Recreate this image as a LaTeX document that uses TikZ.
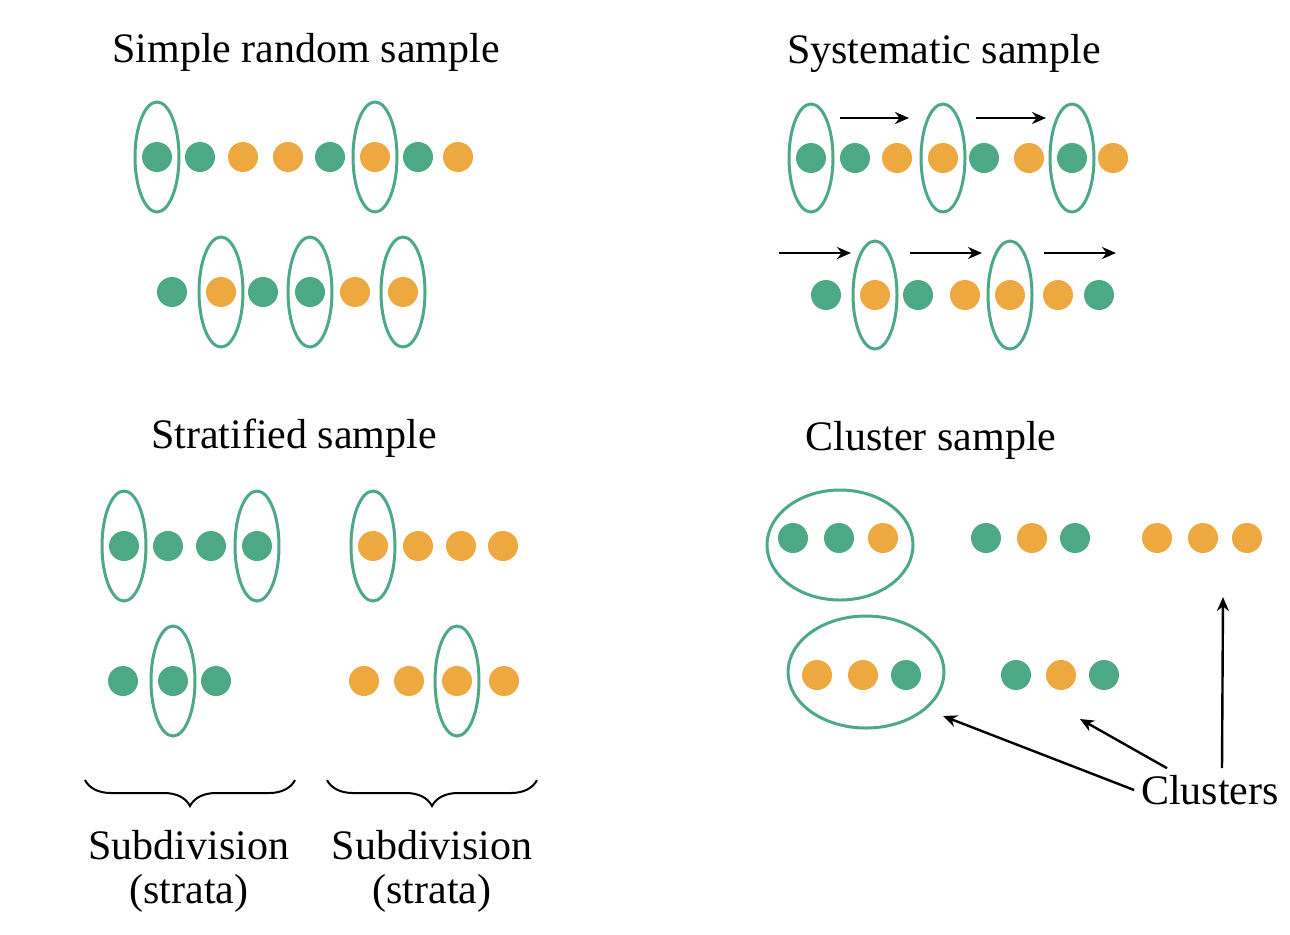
\documentclass[tikz,border=0pt]{standalone}
\usepackage{fontspec}
\setmainfont{Liberation Serif}
\usetikzlibrary{arrows.meta, decorations.pathreplacing, positioning}
\definecolor{sampGreen}{HTML}{4DA886}
\definecolor{sampOrange}{HTML}{EDA83F}
\tikzset{
  dotg/.style  = {circle, fill=sampGreen,  inner sep=0pt, minimum size=15pt},
  doto/.style  = {circle, fill=sampOrange, inner sep=0pt, minimum size=15pt},
  pick/.style  = {sampGreen, line width=1.5pt},
  ttl/.style   = {font=\fontsize{21}{22}\selectfont, anchor=base},
  lbl/.style   = {font=\fontsize{21}{22}\selectfont},
  arr/.style   = {-{Stealth[length=7pt, width=6pt]}, line width=1.2pt, black},
  brc/.style   = {decorate, decoration={brace, mirror, amplitude=13pt}, line width=1pt},
}

\begin{document}
\begin{tikzpicture}[x=0.5pt, y=-0.5pt]
  \useasboundingbox (0,0) rectangle (1290,934);
  % simple random sample
  \node[ttl] (srsT) at (306,62) {Simple random sample};
  \foreach \x/\c [count=\i] in {157/g,200/g,243/o,288/o,330/g,375/o,418/g,458/o}
    \node[dot\c] (sa\i) at (\x,157) {};
  \foreach \x/\c [count=\i] in {172/g,221/o,263/g,310/g,355/o,403/o}
    \node[dot\c] (sb\i) at (\x,292) {};
  \foreach \n in {sa1,sa6,sb2,sb4,sb6}
    \draw[pick] (\n.center) ellipse [x radius=22, y radius=55];
  % systematic sample, every third one
  \node[ttl] (sysT) at (944,63) {Systematic sample};
  \foreach \x/\c [count=\i] in {811/g,855/g,897/o,943/o,984/g,1029/o,1072/g,1113/o}
    \node[dot\c] (ya\i) at (\x,158) {};
  \foreach \x/\c [count=\i] in {826/g,875/o,918/g,965/o,1010/o,1058/o,1099/g}
    \node[dot\c] (yb\i) at (\x,295) {};
  \foreach \n in {ya1,ya4,ya7,yb2,yb5}
    \draw[pick] (\n.center) ellipse [x radius=22, y radius=54];
  \foreach \a/\b/\y [count=\i] in {840/909/118,976/1046/118,779/851/253,910/982/253,1044/1116/253} {
    \coordinate (st\i) at (\a,\y);
    \coordinate (sh\i) at (\b,\y);
    \draw[arr] (st\i) -- (sh\i);
  }
  % stratified sample
  \node[ttl] (strT) at (294,448) {Stratified sample};
  \foreach \x/\c [count=\i] in {124/g,168/g,211/g,257/g,373/o,418/o,461/o,503/o}
    \node[dot\c] (ta\i) at (\x,546) {};
  \foreach \x/\c [count=\i] in {123/g,173/g,216/g,364/o,409/o,457/o,504/o}
    \node[dot\c] (tb\i) at (\x,681) {};
  \foreach \n in {ta1,ta4,ta5,tb2,tb6}
    \draw[pick] (\n.center) ellipse [x radius=22, y radius=55];
  \draw[brc] (85,780) -- (295,780);
  \draw[brc] (327,780) -- (537,780);
  \node[lbl, align=center, anchor=north, inner sep=0pt] (subA) at (189,830) {Subdivision\\(strata)};
  \node[lbl, align=center, anchor=north, inner sep=0pt] (subB) at (432,830) {Subdivision\\(strata)};
  % cluster sample
  \node[ttl] (cluT) at (931,450) {Cluster sample};
  \foreach \x/\c [count=\i] in {793/g,839/g,883/o,986/g,1032/o,1075/g,1157/o,1203/o,1247/o}
    \node[dot\c] (ca\i) at (\x,538) {};
  \foreach \x/\c [count=\i] in {817/o,863/o,906/g,1016/g,1061/o,1104/g}
    \node[dot\c] (cb\i) at (\x,675) {};
  \draw[pick] (840,545) ellipse [x radius=73, y radius=55];
  \draw[pick] (866,672) ellipse [x radius=78, y radius=56];
  \node[lbl] (cluL) at (1210,790) {Clusters};
  \coordinate (ct1) at (943,716);
  \coordinate (ct2) at (1080,719);
  \coordinate (ct3) at (1223,597);
  \draw[arr] (cluL.west) -- (ct1);
  \draw[arr] ([xshift=-21.5pt]cluL.north) -- (ct2);
  \draw[arr] ([xshift=6pt]cluL.north) -- (ct3);
\end{tikzpicture}
\end{document}
